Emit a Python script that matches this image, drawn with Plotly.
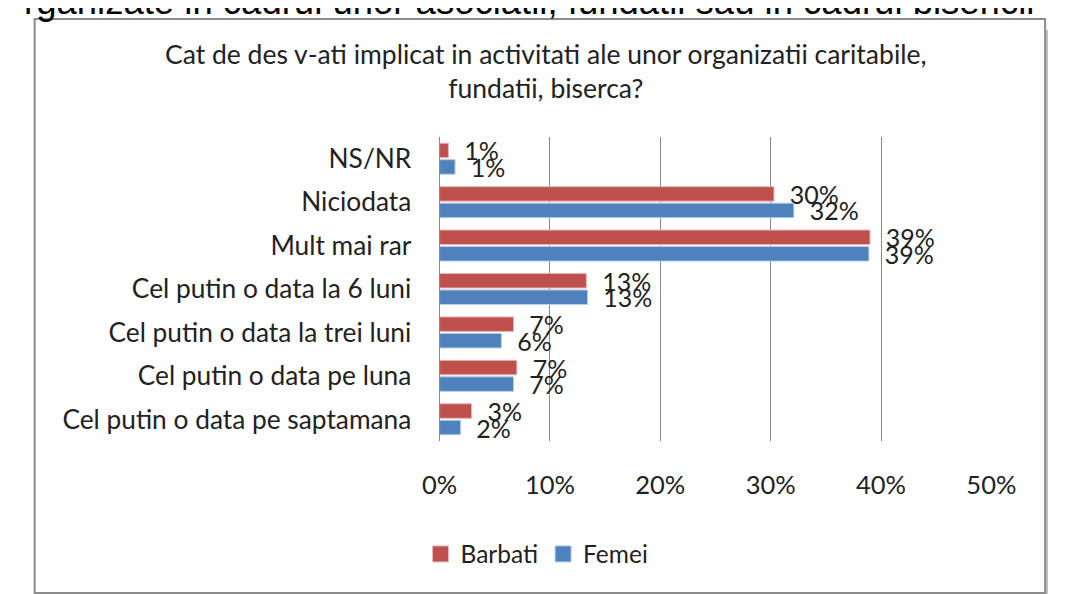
import plotly.graph_objects as go

categories = ["NS/NR", "Niciodata", "Mult mai rar", "Cel putin o data la 6 luni",
              "Cel putin o data la trei luni", "Cel putin o data pe luna",
              "Cel putin o data pe saptamana"]
barbati = [0.008, 0.303, 0.390, 0.133, 0.067, 0.070, 0.029]
femei = [0.014, 0.321, 0.389, 0.134, 0.056, 0.067, 0.019]
tick_vals = [0, 0.1, 0.2, 0.3, 0.4, 0.5]
tick_text = ["0%", "10%", "20%", "30%", "40%", "50%"]
series_names = ["Barbati", "Femei"]
series_colors = ["#C0504D", "#4F81BD"]
edge_colors = ["#E6B9B8", "#B9CDE5"]

title = "Cat de des v-ati implicat in activitati ale unor organizatii caritabile,<br>fundatii, biserca?"
top_text = "rganizate in cadrul unor asociatii, fundatii sau in cadrul bisericii"

W, H = 1065, 594
FONT = "Lato, 'Open Sans', sans-serif"

fig = go.Figure()
for name, vals, col, edge in zip(series_names, [barbati, femei], series_colors, edge_colors):
    fig.add_trace(go.Bar(y=categories, x=vals, name=name, orientation="h",
                         marker=dict(color=col, line=dict(color=edge, width=1)),
                         texttemplate="  %{x:.0%}", textposition="outside",
                         textfont=dict(size=25, color="#222"), constraintext="none",
                         cliponaxis=False, showlegend=False))
# legend entries with larger square keys
for name, col, edge in zip(series_names, series_colors, edge_colors):
    fig.add_trace(go.Scatter(x=[None], y=[None], mode="markers", name=name,
                             marker=dict(symbol="square", size=16, color=col,
                                         line=dict(color=edge, width=1)),
                             showlegend=True))

def px(x):
    return x / W

def py(y):
    return 1 - y / H

fig.update_layout(
    width=W, height=H,
    margin=dict(l=0, r=0, t=0, b=0),
    paper_bgcolor="white", plot_bgcolor="white",
    font=dict(family=FONT, size=25, color="#222"),
    barmode="group", bargap=0.24, bargroupgap=0.12,
    showlegend=True,
    legend=dict(orientation="h", x=0.5, xanchor="center", y=py(546), yanchor="middle",
                font=dict(size=24.5), itemwidth=30, traceorder="normal", itemsizing="trace",
                bgcolor="rgba(0,0,0,0)"),
    xaxis=dict(domain=[px(431), px(1006)], range=[0, 0.5], tickvals=tick_vals, ticktext=tick_text,
               showgrid=True, gridcolor="#8a8a8a", gridwidth=1, zeroline=False,
               ticks="", ticklabelstandoff=26, tickfont=dict(size=25.5), fixedrange=True),
    yaxis=dict(domain=[py(433), py(129)], autorange="reversed", showline=True, linecolor="#8a8a8a",
               linewidth=1, ticks="", ticklabelstandoff=22, tickfont=dict(size=26.3)),
    shapes=[
        dict(type="rect", xref="paper", yref="paper", x0=px(23), x1=1, y0=0, y1=py(586),
             fillcolor="#c0c0c0", line=dict(width=0), layer="below"),
        dict(type="rect", xref="paper", yref="paper", x0=px(1062), x1=1, y0=py(586), y1=py(22),
             fillcolor="#c0c0c0", line=dict(width=0), layer="below"),
        dict(type="rect", xref="paper", yref="paper", x0=px(9), x1=px(1062), y0=py(585), y1=py(11),
             fillcolor="white", line=dict(color="#8c8c8c", width=2), layer="below"),
    ],
    annotations=[
        dict(text=title, x=px(542), y=py(28), xref="paper", yref="paper", xanchor="center",
             yanchor="top", showarrow=False, font=dict(size=26.5, color="#222")),
        dict(text=top_text, x=px(-4), y=py(16), xref="paper", yref="paper", xanchor="left",
             yanchor="bottom", showarrow=False, font=dict(family="Liberation Sans, Arial", size=36.5, color="#000")),
    ],
)

fig.write_html("out.html")
